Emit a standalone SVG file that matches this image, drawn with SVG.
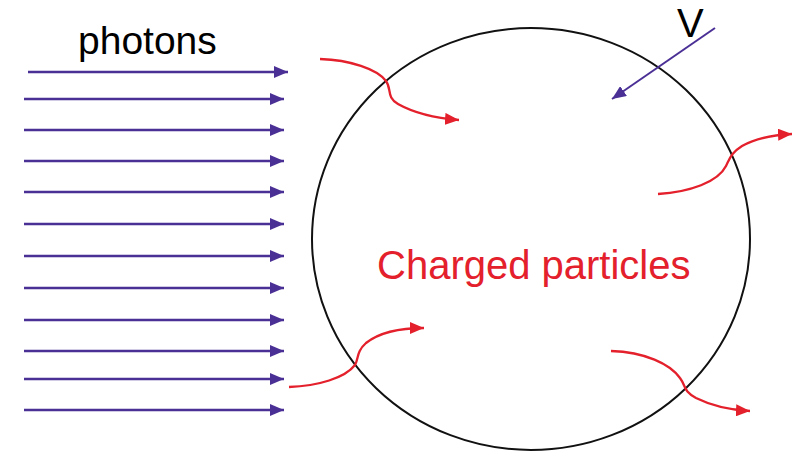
<svg xmlns="http://www.w3.org/2000/svg" width="792" height="453" viewBox="0 0 792 453">
  <style>
    .photon { stroke: #4a2f95; stroke-width: 2.6; fill: none; marker-end: url(#headPurple); }
    .vel { stroke: #4a2f95; stroke-width: 2; fill: none; marker-end: url(#headPurple); }
    .charge { stroke: #e3202b; stroke-width: 2.3; fill: none; marker-end: url(#headRed); }
    .label { font-family: "Liberation Sans", Arial, sans-serif; }
  </style>
  <defs>
    <marker id="headPurple" viewBox="0 0 14 12" refX="14" refY="6" markerWidth="14" markerHeight="12" markerUnits="userSpaceOnUse" orient="auto">
      <path d="M0,0 L14,6 L0,12 z" fill="#4a2f95"/>
    </marker>
    <marker id="headRed" viewBox="0 0 14 12" refX="14" refY="6" markerWidth="14" markerHeight="12" markerUnits="userSpaceOnUse" orient="auto">
      <path d="M0,0 L14,6 L0,12 z" fill="#e3202b"/>
    </marker>
  </defs>
  <rect width="792" height="453" fill="#ffffff"/>

  <!-- plasma region -->
  <g id="region">
    <ellipse cx="531" cy="239" rx="219" ry="211" fill="none" stroke="#111111" stroke-width="2"/>
  </g>

  <g id="labels">
    <text class="label" x="78" y="54" font-size="39" fill="#000000">photons</text>
    <text class="label" x="677" y="37" font-size="40" fill="#000000">V</text>
    <text class="label" x="377" y="279" font-size="40" fill="#e3202b">Charged particles</text>
  </g>

  <g id="connectors">
    <!-- incoming photon beam -->
    <line class="photon" x1="28" y1="72" x2="288" y2="72"/>
    <line class="photon" x1="24" y1="99" x2="284" y2="99"/>
    <line class="photon" x1="24" y1="130" x2="284" y2="130"/>
    <line class="photon" x1="24" y1="161" x2="284" y2="161"/>
    <line class="photon" x1="24" y1="192" x2="284" y2="192"/>
    <line class="photon" x1="24" y1="224" x2="284" y2="224"/>
    <line class="photon" x1="24" y1="256" x2="284" y2="256"/>
    <line class="photon" x1="24" y1="288" x2="284" y2="288"/>
    <line class="photon" x1="24" y1="320" x2="284" y2="320"/>
    <line class="photon" x1="24" y1="351" x2="284" y2="351"/>
    <line class="photon" x1="24" y1="379" x2="284" y2="379"/>
    <line class="photon" x1="24" y1="410" x2="284" y2="410"/>

    <!-- velocity -->
    <line class="vel" x1="715" y1="28" x2="612" y2="99"/>

    <!-- charged particle tracks crossing the boundary -->
    <path class="charge" d="M320,59 C350,60 377,69 386,81 C392,89 386,97 398,104 C414,113 434,118 459,120"/>
    <path class="charge" d="M658,194 C690,192 718,182 726,166 C730,158 731,153 742,146 C756,138 772,135 792,134"/>
    <path class="charge" d="M289,387 C318,386 345,378 355,365 C359,358 356,352 366,343 C380,332 400,328 424,328"/>
    <path class="charge" d="M611,351 C645,352 670,364 680,378 C686,386 683,391 696,398 C712,406 730,410 750,411"/>
  </g>
</svg>
